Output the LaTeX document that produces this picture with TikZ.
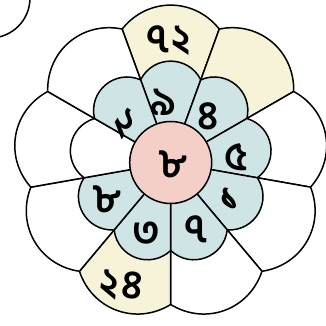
\documentclass[tikz,border=0pt]{standalone}
\usepackage{fontspec}
\newfontfamily\bnfont[Script=Bengali]{Hind Siliguri}
\definecolor{petalblue}{RGB}{207,228,228}
\definecolor{petalyellow}{RGB}{247,243,217}
\definecolor{centrepink}{RGB}{244,207,200}
\tikzset{
	outline/.style={draw=black, line width=1.5pt, line join=round},
	digit/.style={font=\bnfont\bfseries\fontsize{40}{40}\selectfont, inner sep=0pt},
}

\begin{document}
\begin{tikzpicture}[x=1pt, y=1pt]
	
	%% -- Frame
	\useasboundingbox (-170.7,-163.5) rectangle (155.3,162.5);
	
	%% -- Edge of the neighbouring circle
	\begin{scope}
		\clip (-170.7,-163.5) rectangle (155.3,162.5);
		\draw[outline] (-180.7,164.5) circle (40pt);
	\end{scope}
	
	%% -- Outer petals
	\foreach \ang/\col in {90/petalyellow, 50/petalyellow, 10/white, -30/white,
		-70/white, -110/petalyellow, -150/white, 170/white, 130/white}
	\draw[outline, fill=\col] (0,0) -- (\ang-20:142pt)
	.. controls (\ang-8:167pt) and (\ang+8:167pt) .. (\ang+20:142pt) -- cycle;
	
	%% -- Inner petals
	\foreach \ang/\col in {90/petalblue, 50/petalblue, 10/petalblue, -30/petalblue,
		-70/petalblue, -110/petalblue, -150/petalblue, 170/white, 130/petalblue}
	\draw[outline, fill=\col] (0,0) -- (\ang-20:88pt)
	.. controls (\ang-9.2:109pt) and (\ang+9.2:109pt) .. (\ang+20:88pt) -- cycle;
	
	%% -- Centre
	\draw[outline, fill=centrepink] (0,0) circle (41pt);
	\node[digit] (mid) at (2,-2) {৮};
	
	%% -- Inner numbers
	\node[digit] (n9) at (97:61pt) {৯};
	\node[digit] (n4) at (51:60pt) {৪};
	\node[digit] (n5) at (5:66pt) {৫};
	\node[digit] (n1) at (-32:70pt) {১};
	\node[digit] (n7) at (-69:72pt) {৭};
	\node[digit] (n3) at (251:75pt) {৩};
	\node[digit] (n8) at (210:74pt) {৮};
	\node[digit, rotate=-35] (n2) at (140:61pt) {২};
	
	%% -- Outer numbers
	\node[digit] (n72) at (91:122pt) {৭\kern1pt২};
	\node[digit, rotate=-6] (n24) at (248:133pt) {২\kern3pt৪};
	
\end{tikzpicture}
\end{document}
